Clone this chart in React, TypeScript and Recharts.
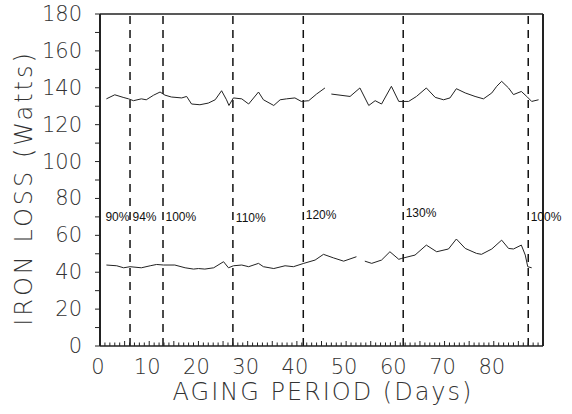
import { LineChart, Line, XAxis, YAxis, ReferenceLine, ReferenceDot } from "recharts";

// upper curve (upper load level)
const upperDays = [1.3, 3.0, 4.7, 5.8, 6.8, 8.4, 9.4, 10.9, 12.2, 13.2, 14.5, 16.6, 17.6, 18.6, 20.3, 22.0, 23.4, 24.7, 25.7, 26.2, 27.1, 28.8, 30.2, 32.2, 33.2, 35.3, 36.6, 37.9, 39.6, 40.9, 42.4, 44.0, 45.7, 46.3, 47.0, 50.8, 52.8, 54.6, 55.9, 57.2, 59.2, 60.7, 62.7, 64.3, 66.3, 68.1, 69.8, 71.1, 72.4, 74.2, 76.2, 77.9, 79.6, 80.6, 81.6, 83.0, 84.0, 85.6, 86.7, 87.7, 89.1];
const upperLoss = [134, 136.2, 134.8, 134, 133, 134, 133.5, 136, 137.7, 136, 135, 134.5, 135.3, 131.2, 130.8, 131.7, 133.5, 138.4, 133.5, 130.4, 134.5, 134, 131.2, 137.7, 133.5, 130.4, 133.5, 134, 134.5, 132.6, 133, 136.6, 139.9, null, 136.6, 135.3, 139.9, 130.4, 133, 131.2, 140.8, 132.6, 132.6, 135.3, 139.9, 134.8, 133.5, 134.5, 139.5, 137.2, 135.3, 134, 137.2, 140.8, 143.5, 139.9, 136.3, 138, 135.3, 132.6, 133.5];

// lower curve
const lowerDays = [1.3, 3.4, 4.8, 6.1, 8.4, 10.2, 11.5, 12.9, 15.2, 17.3, 19.0, 20.0, 21.3, 23.1, 25.1, 26.1, 27.1, 28.8, 30.2, 32.2, 33.2, 35.3, 37.6, 39.3, 41.4, 43.7, 45.4, 47.4, 49.5, 52.1, 53.0, 53.8, 55.2, 57.2, 58.9, 60.7, 61.3, 64.0, 66.3, 68.4, 70.8, 72.4, 74.2, 76.5, 77.5, 79.6, 81.6, 83.0, 84.0, 85.6, 86.4, 86.9, 87.7];
const lowerLoss = [43.9, 43.5, 42.4, 43, 42.4, 43.5, 44.2, 43.9, 43.9, 42.4, 41.7, 42, 41.7, 42.4, 45.7, 42.4, 43.5, 43.9, 43, 44.8, 43, 42, 43.5, 43, 44.8, 46.6, 49.7, 47.8, 46, 48.4, null, 46, 44.8, 46.6, 51.1, 47, 47.5, 49.3, 54.7, 51.1, 52.6, 58, 52.9, 50.2, 49.7, 52.6, 57.4, 52.9, 52.6, 54.7, 49.3, 43, 42.4];

// load changes
const loadDays = [6.1, 12.8, 27.0, 41.3, 61.6, 87.0];
const loadLabels = ["90%", "94%", "100%", "110%", "120%", "130%", "100%"];
const loadLabelDays = [1.1, 6.6, 13.3, 27.6, 41.8, 62.1, 87.5];
const loadLabelY = [70, 70, 70, 69.5, 71, 72, 70];

const xLabels = [0, 10, 20, 30, 40, 50, 60, 70, 80];
const yLabels = [0, 20, 40, 60, 80, 100, 120, 140, 160, 180];
const xTicks = Array.from({ length: 91 }, (_, i) => i);
const yTicks = Array.from({ length: 19 }, (_, i) => i * 10);

const upper = upperDays.map((d, i) => ({ day: d, loss: upperLoss[i] }));
const lower = lowerDays.map((d, i) => ({ day: d, loss: lowerLoss[i] }));

const FONT = "'DejaVu Sans', sans-serif";
const INK = "#222";

const XTick = ({ x, y, payload }: any) => {
  const v = payload.value;
  return (
    <g>
      <line x1={x} x2={x} y1={y} y2={y - (v % 5 === 0 ? 5 : 3.5)} stroke={INK} strokeWidth={1} />
      {xLabels.includes(v) && (
        <text x={x - 2} y={y + 28} textAnchor="middle" fontSize={21} fontFamily={FONT} fontWeight={200} fill="#333">
          {v}
        </text>
      )}
    </g>
  );
};

const YTick = ({ x, y, payload }: any) => {
  const v = payload.value;
  return (
    <g>
      <line x1={x - 5} x2={x} y1={y} y2={y} stroke={INK} strokeWidth={1} />
      {yLabels.includes(v) && (
        <text x={x - 18} y={y + 7} textAnchor="end" fontSize={21} fontFamily={FONT} fontWeight={200} fill="#333">
          {v}
        </text>
      )}
    </g>
  );
};

export default function App() {
  return (
    <div style={{ position: "absolute", left: 0, top: 0, background: "#fff" }}>
      <LineChart width={572} height={414} margin={{ top: 14, right: 29, bottom: 0, left: 0 }}>
        <XAxis
          type="number"
          dataKey="day"
          domain={[0, 90]}
          ticks={xTicks}
          interval={0}
          tickSize={0}
          tickMargin={0}
          tick={<XTick />}
          axisLine={{ stroke: INK, strokeWidth: 1.5 }}
          height={68}
          allowDuplicatedCategory={false}
          label={{
            content: () => (
              <text x={323} y={400} textAnchor="middle" fontSize={24} fontFamily={FONT} fontWeight={200} fill="#333" letterSpacing={2}>
                AGING PERIOD (Days)
              </text>
            ),
          }}
        />
        <YAxis
          type="number"
          domain={[0, 180]}
          ticks={yTicks}
          interval={0}
          tickSize={0}
          tickMargin={0}
          tick={<YTick />}
          axisLine={{ stroke: INK, strokeWidth: 2 }}
          width={100}
          label={{
            content: () => (
              <text
                x={24}
                y={188}
                transform="rotate(-90 24 188)"
                textAnchor="middle"
                dominantBaseline="central"
                fontSize={24}
                fontFamily={FONT}
                fontWeight={200}
                fill="#333"
                letterSpacing={3}
              >
                IRON LOSS (Watts)
              </text>
            ),
          }}
        />
        <ReferenceLine y={180} stroke={INK} strokeWidth={1.5} />
        <ReferenceLine x={90} stroke={INK} strokeWidth={2} />
        {loadDays.map((d) => (
          <ReferenceLine key={d} x={d} stroke="#111" strokeWidth={1.5} strokeDasharray="8 6" />
        ))}
        {loadLabels.map((t, i) => (
          <ReferenceDot
            key={t + i}
            x={loadLabelDays[i]}
            y={loadLabelY[i]}
            r={0}
            fill="none"
            stroke="none"
            ifOverflow="visible"
            label={{ value: t, position: "right", offset: 0, fontSize: 12, fontFamily: "'Liberation Sans', sans-serif", fill: "#111" }}
          />
        ))}
        <Line data={upper} dataKey="loss" type="linear" stroke={INK} strokeWidth={1} dot={false} isAnimationActive={false} connectNulls={false} />
        <Line data={lower} dataKey="loss" type="linear" stroke={INK} strokeWidth={1} dot={false} isAnimationActive={false} connectNulls={false} />
      </LineChart>
    </div>
  );
}
